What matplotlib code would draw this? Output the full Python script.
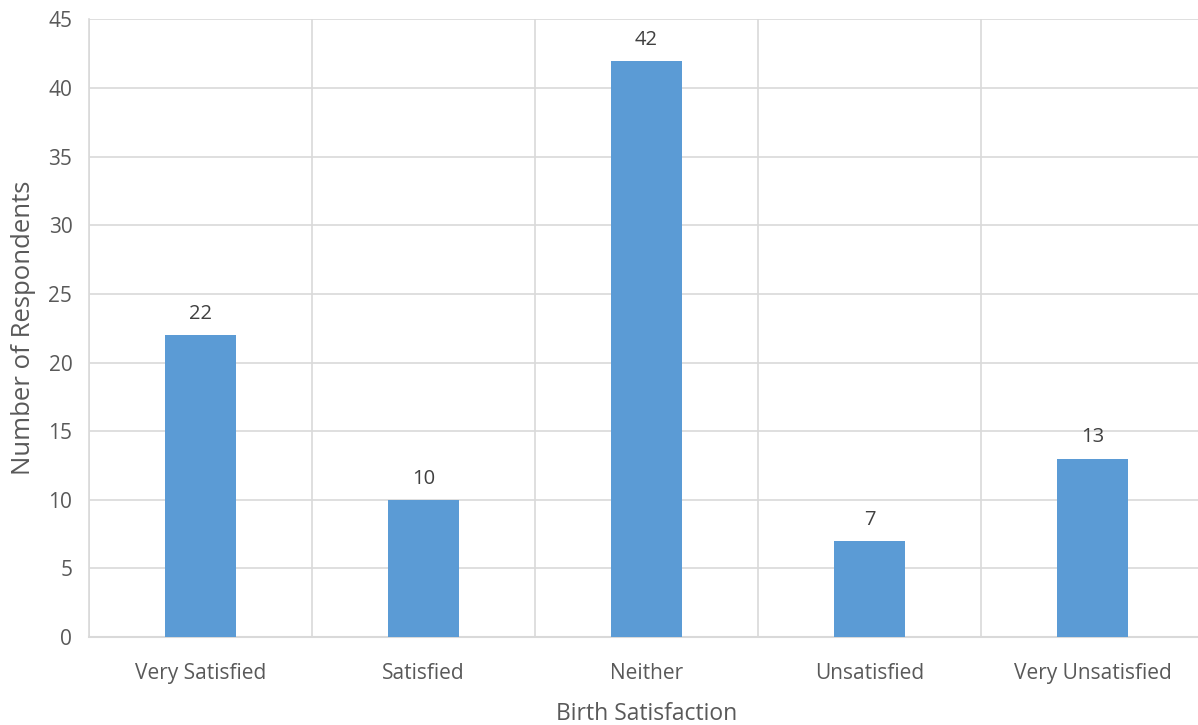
import matplotlib
matplotlib.use("Agg")
import matplotlib.pyplot as plt
import numpy as np

categories = ["Very Satisfied", "Satisfied", "Neither", "Unsatisfied", "Very Unsatisfied"]
values = [22, 10, 42, 7, 13]
yticks = [0, 5, 10, 15, 20, 25, 30, 35, 40, 45]

plt.rcParams['font.family'] = ['Open Sans', 'DejaVu Sans']
text_color = '#595959'
grid_color = '#D9D9D9'
bar_color = '#5B9BD5'

fig = plt.figure(figsize=(11.98, 7.25), dpi=100)
ax = fig.add_axes([89/1198, (725-637)/725, 1115/1198, 617.5/725])

x = np.arange(len(categories))
bars = ax.bar(x, values, width=0.314, color=bar_color, zorder=3)
for xi, v in zip(x, values):
    ax.annotate(str(v), (xi, v), xytext=(0, 8), textcoords='offset points',
                ha='center', va='bottom', fontsize=14.5, color='#404040')

ax.set_xlim(-0.5, len(categories) - 0.5)
ax.set_ylim(0, 45)
ax.set_yticks(yticks)
ax.set_xticks(x)
ax.set_xticklabels(categories)
ax.set_xticks(np.arange(-0.5, len(categories), 1.0), minor=True)
ax.tick_params(axis='both', which='both', length=0, colors=text_color, labelsize=15)
ax.tick_params(axis='x', pad=19)
ax.tick_params(axis='y', pad=12)
ax.grid(axis='y', which='major', color=grid_color, linewidth=1.2, zorder=0)
ax.grid(axis='x', which='minor', color=grid_color, linewidth=1.2, zorder=0)
ax.grid(axis='x', which='major', visible=False)

for s in ['top', 'right']:
    ax.spines[s].set_visible(False)
ax.spines['left'].set_color(grid_color)
ax.spines['bottom'].set_color(grid_color)
ax.spines['left'].set_linewidth(1.2)
ax.spines['bottom'].set_linewidth(1.5)

ax.set_ylabel("Number of Respondents", fontsize=18.5, color=text_color, labelpad=9)
ax.set_xlabel("Birth Satisfaction", fontsize=16.5, color=text_color, labelpad=13)

fig.savefig("out.png", dpi=100)
